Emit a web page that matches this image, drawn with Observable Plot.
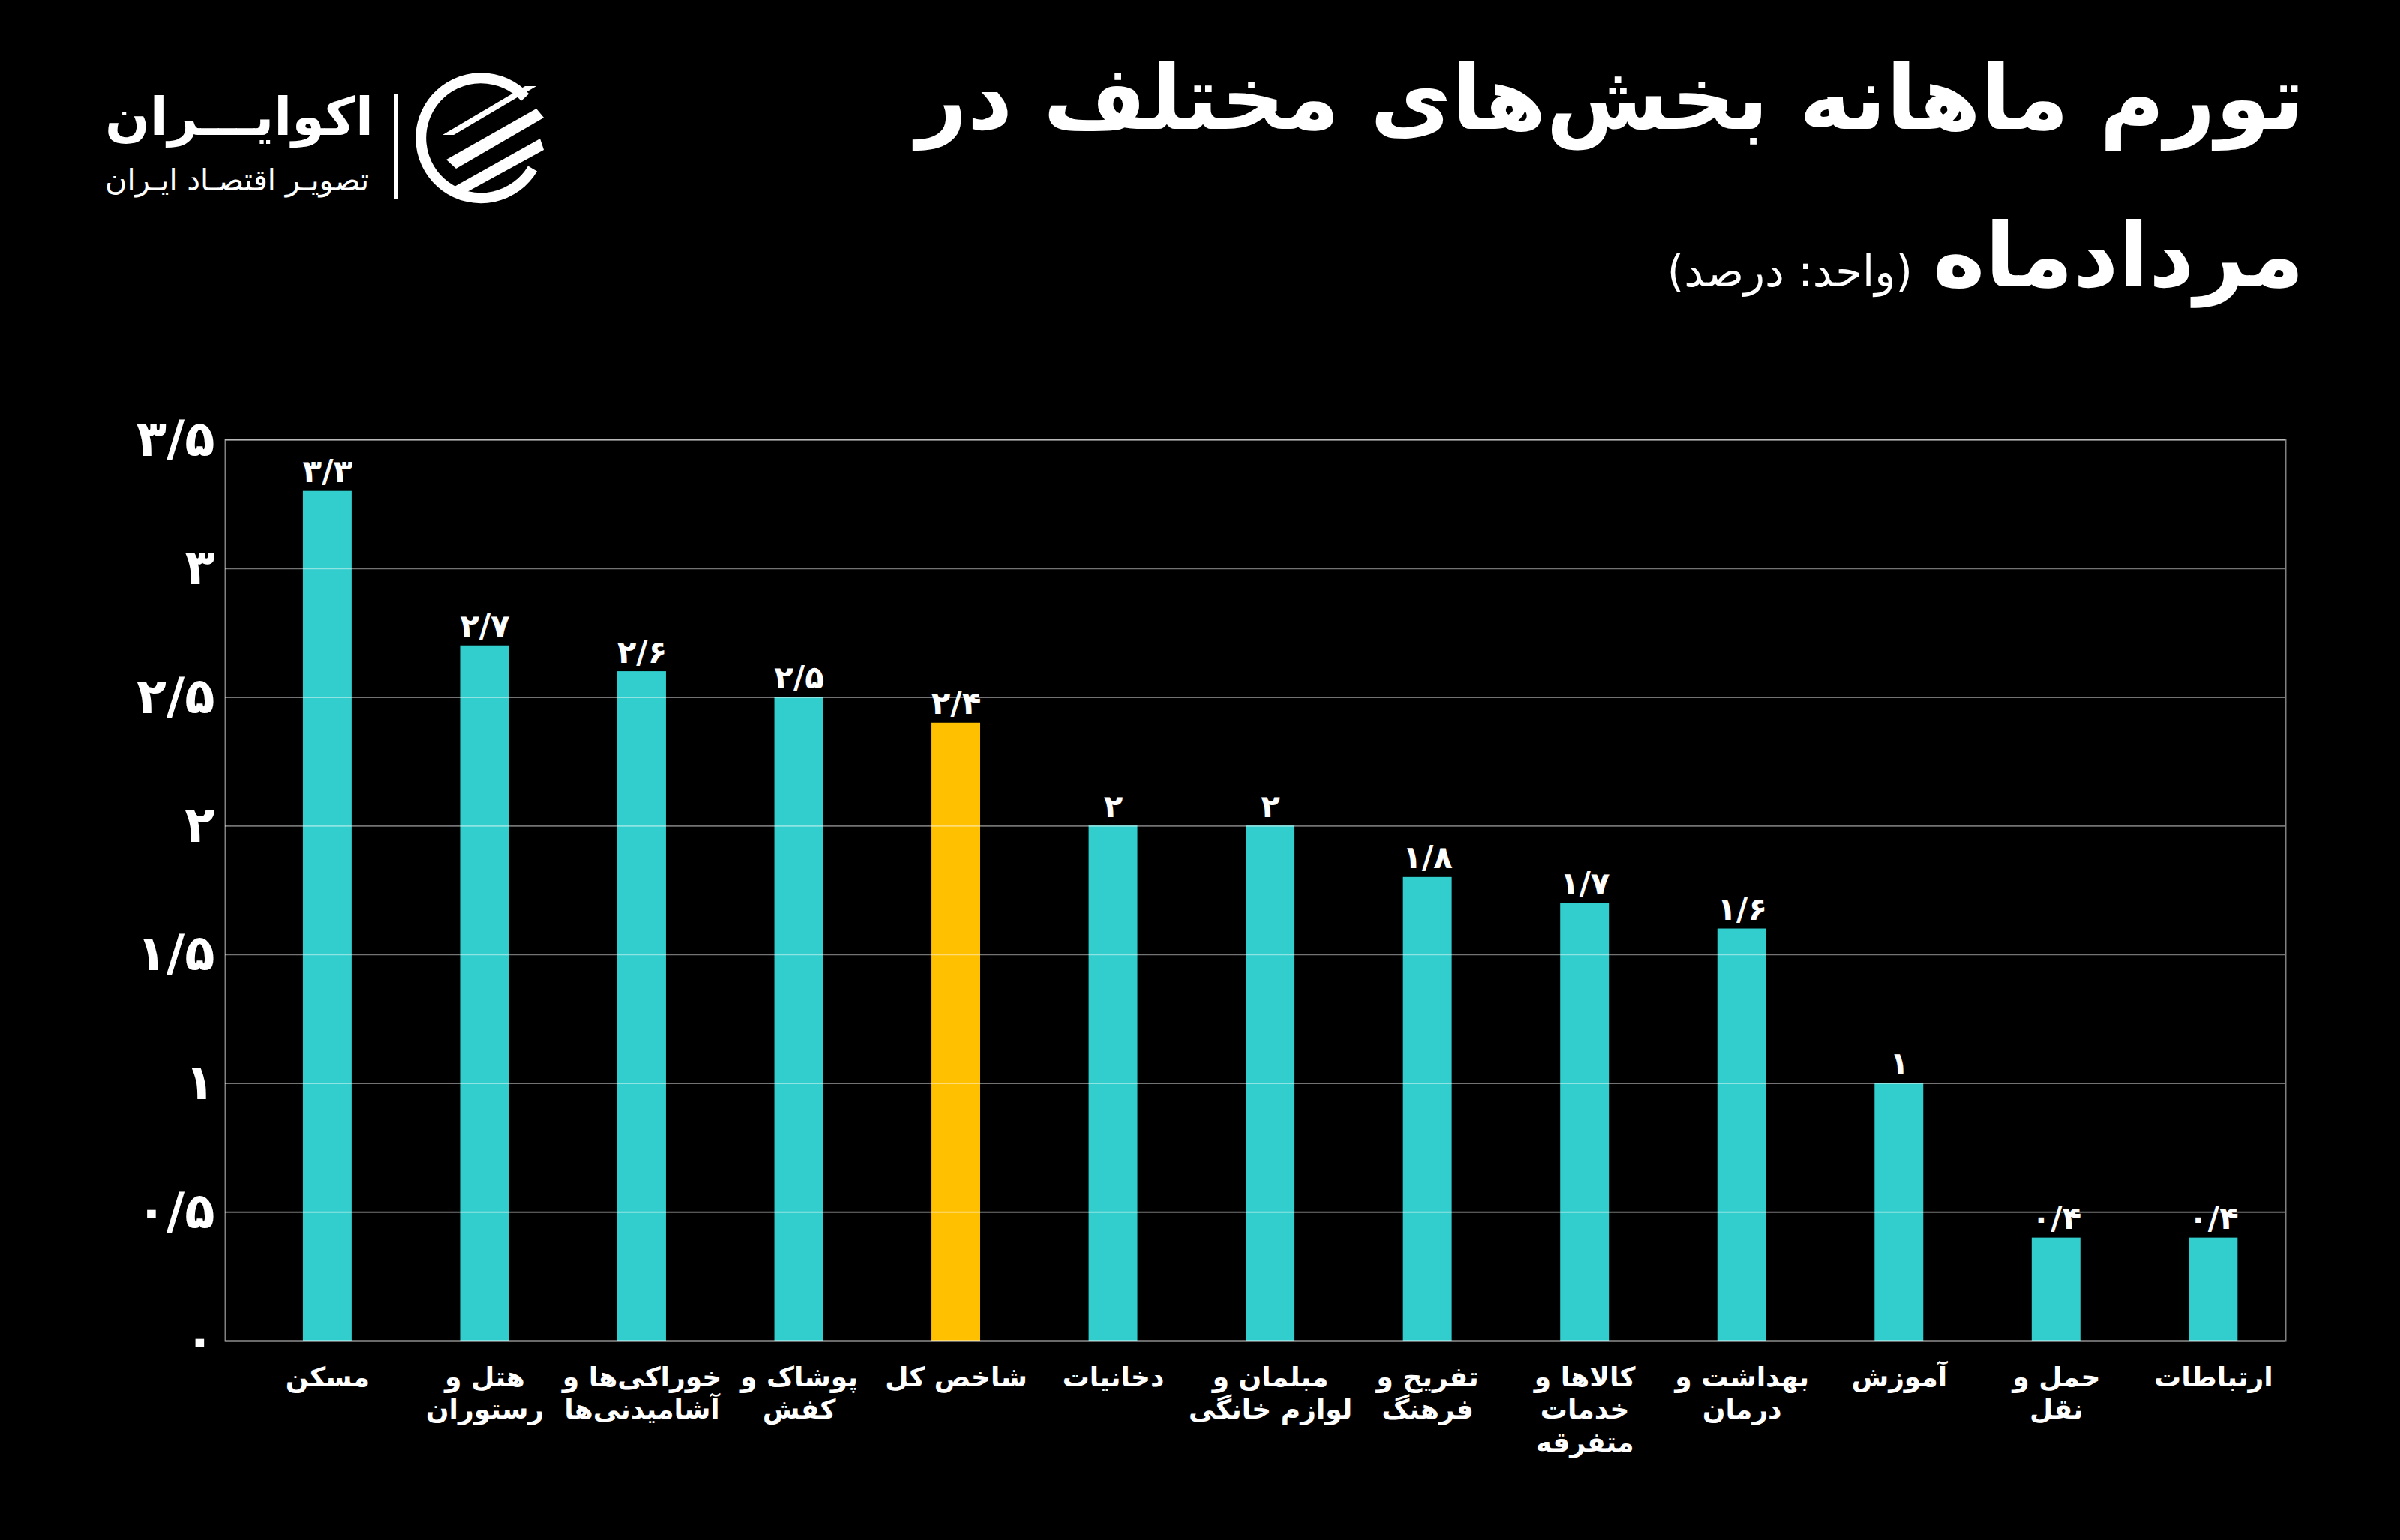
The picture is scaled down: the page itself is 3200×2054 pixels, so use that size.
<!DOCTYPE html>
<html><head><meta charset="utf-8">
<script src="https://cdn.jsdelivr.net/npm/d3@7"></script>
<script src="https://cdn.jsdelivr.net/npm/@observablehq/plot@0.6"></script>
<style>
html,body{margin:0;padding:0;background:#000;}
body{width:3200px;height:2054px;position:relative;overflow:hidden;font-family:"DejaVu Sans",sans-serif;color:#fff;}
#header{position:relative;width:3200px;height:480px;}
.t1{position:absolute;right:128px;top:72px;font-size:118px;font-weight:900;direction:rtl;white-space:nowrap;line-height:1;}
.t2{position:absolute;right:128px;top:282px;font-size:118px;font-weight:900;direction:rtl;white-space:nowrap;line-height:1;}
.t2 span{font-size:58px;font-weight:400;margin-right:-14px;}
#logo{position:absolute;left:130px;top:95px;}
.lg1{position:absolute;left:10px;top:26px;font-size:70px;font-weight:bold;white-space:nowrap;direction:rtl;line-height:1;}
.lg2{position:absolute;left:10px;top:125px;font-size:40px;white-space:nowrap;direction:rtl;line-height:1;}
#chart{position:absolute;left:0;top:480px;}
</style></head>
<body>
<div id="header">
  <div class="t1">تورم ماهانه بخش‌های مختلف در</div>
  <div class="t2">مردادماه <span>(واحد: درصد)</span></div>
  <div id="logo">
    <div class="lg1">اکوایـــران</div>
    <div class="lg2">تصویـر اقتصـاد ایـران</div>
    <svg style="position:absolute;left:395px;top:30px" width="6" height="140"><rect x="0" y="0" width="5" height="140" fill="#fff"/></svg>
    <svg style="position:absolute;left:420px;top:0px" width="180" height="180" viewBox="0 0 180 180">
      <path d="M150 35 A80 80 0 1 0 160 130" fill="none" stroke="#fff" stroke-width="14"/>
      <polygon points="40,85 150,20 165,20 55,85" fill="#fff"/>
      <polygon points="45,118 165,50 175,62 58,130" fill="#fff"/>
      <polygon points="45,160 170,90 175,105 60,168" fill="#fff"/>
    </svg>
  </div>
</div>
<div id="chart"></div>
<script>
const categories = ["مسکن","هتل و رستوران","خوراکی‌ها و آشامیدنی‌ها","پوشاک و کفش","شاخص کل","دخانیات","مبلمان و لوازم خانگی","تفریح و فرهنگ","کالاها و خدمات متفرقه","بهداشت و درمان","آموزش","حمل و نقل","ارتباطات"];
const xLabels = ["مسکن","هتل و\nرستوران","خوراکی‌ها و\nآشامیدنی‌ها","پوشاک و\nکفش","شاخص کل","دخانیات","مبلمان و\nلوازم خانگی","تفریح و\nفرهنگ","کالاها و\nخدمات\nمتفرقه","بهداشت و\nدرمان","آموزش","حمل و\nنقل","ارتباطات"];
const values = [3.3, 2.7, 2.6, 2.5, 2.4, 2, 2, 1.8, 1.7, 1.6, 1, 0.4, 0.4];
const highlight = "شاخص کل";
const yTicks = [0, 0.5, 1, 1.5, 2, 2.5, 3, 3.5];

const faDigits = "۰۱۲۳۴۵۶۷۸۹";
const fa = v => String(v).replace(".", "/").replace(/\d/g, d => faDigits[d]);
const labelOf = new Map(categories.map((c, i) => [c, xLabels[i]]));
const data = categories.map((c, i) => ({cat: c, value: values[i]}));

const chart = Plot.plot({
  width: 3200, height: 1574,
  marginLeft: 300, marginRight: 153, marginTop: 106, marginBottom: 266,
  style: {background: "transparent", color: "#fff", fontFamily: "DejaVu Sans"},
  x: {domain: categories, paddingInner: 0.69, paddingOuter: 0.40, align: 0.62, round: false, label: null},
  y: {domain: [0, 3.5], label: null},
  marks: [
    Plot.barY(data, {x: "cat", y: "value", fill: d => d.cat === highlight ? "#FFC000" : "#32CDCD"}),
    Plot.ruleY(yTicks, {stroke: "#fff", strokeOpacity: 0.45, strokeWidth: 2}),
    Plot.frame({stroke: "#fff", strokeOpacity: 0.5, strokeWidth: 2}),
    Plot.text(data, {x: "cat", y: "value", text: d => fa(d.value), dy: -12, lineAnchor: "bottom", fontSize: 42, fontWeight: "bold", fill: "#fff"}),
    Plot.axisY(yTicks, {tickSize: 0, tickPadding: 14, tickFormat: fa, fontSize: 66, fontWeight: "bold", fill: "#fff"}),
    Plot.axisX({tickSize: 0, tickPadding: 30, tickFormat: d => labelOf.get(d), fontSize: 36, fontWeight: "bold", lineHeight: 1.2, fill: "#fff"})
  ]
});
document.getElementById("chart").appendChild(chart);
</script>
</body></html>
